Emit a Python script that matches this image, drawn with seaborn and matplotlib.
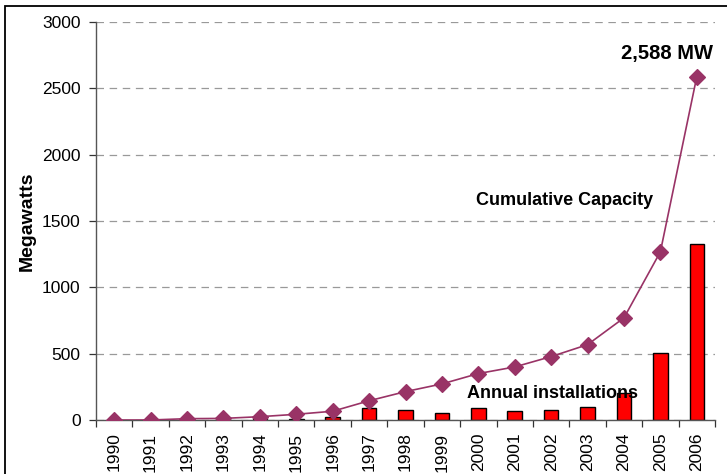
import matplotlib
matplotlib.use("Agg")
import matplotlib.pyplot as plt
import numpy as np
import pandas as pd
import seaborn as sns
from matplotlib.patches import Rectangle

# values
years = [1990, 1991, 1992, 1993, 1994, 1995, 1996, 1997, 1998,
         1999, 2000, 2001, 2002, 2003, 2004, 2005, 2006]
annual_mw = [0, 0, 2, 2, 5, 6, 22, 88, 78, 53, 88, 65, 78, 95, 200, 505, 1325]
cumulative_mw = [0, 0, 10, 12, 25, 43, 66, 145, 214, 272, 350, 400, 478, 568, 770, 1268, 2588]
yticks = [0, 500, 1000, 1500, 2000, 2500, 3000]

df = pd.DataFrame({'Year': [str(y) for y in years],
                   'Annual': annual_mw,
                   'Cumulative': cumulative_mw})

sns.set_style("white")
plt.rcParams['font.family'] = ['Liberation Sans', 'DejaVu Sans']
plt.rcParams['text.color'] = 'black'
plt.rcParams['axes.labelcolor'] = 'black'
plt.rcParams['xtick.labelcolor'] = 'black'
plt.rcParams['ytick.labelcolor'] = 'black'

fig = plt.figure(figsize=(7.27, 4.74), dpi=100)
ax = fig.add_axes([96 / 727, 54 / 474, 619 / 727, 398 / 474])

# bars for yearly installations
sns.barplot(data=df, x='Year', y='Annual', color='#FF0000', edgecolor='black',
            linewidth=1.0, width=0.4, saturation=1, ax=ax, zorder=2)
# cumulative line with diamond markers
sns.pointplot(data=df, x='Year', y='Cumulative', color='#993366', markers='D',
              markersize=8, linewidth=1.2, ax=ax, zorder=3)

ax.set_ylim(0, 3000)
ax.set_xlim(-0.5, len(years) - 0.5)
ax.set_yticks(yticks)
ax.set_yticklabels([str(t) for t in yticks], fontsize=12.5)
ax.yaxis.grid(True, color='#999999', linestyle=(0, (6, 4.5)), linewidth=0.9)
ax.set_axisbelow(True)

# year labels centred, tick marks between categories
ax.set_xticks(range(len(years)))
ax.set_xticklabels([str(y) for y in years], rotation=90, fontsize=12.5)
ax.set_xticks(np.arange(-0.5, len(years)), minor=True)
ax.tick_params(axis='x', which='major', length=0, pad=9)
ax.tick_params(axis='x', which='minor', length=5, width=0.9, color='#333333', direction='out', bottom=True)
ax.tick_params(axis='y', length=5, width=0.9, color='#333333', direction='out', left=True, pad=6)

ax.set_xlabel('')
ax.set_ylabel('Megawatts', fontsize=14, fontweight='bold')
ax.yaxis.set_label_coords(-0.098, 0.5)

for s in ['top', 'right']:
    ax.spines[s].set_visible(False)
for s in ['left', 'bottom']:
    ax.spines[s].set_color('#555555')
    ax.spines[s].set_linewidth(1.0)

ax.text(16.45, 2766, '2,588 MW', fontsize=14.5, fontweight='bold', ha='right', va='center')
ax.text(12.36, 1658, 'Cumulative Capacity', fontsize=13, fontweight='bold', ha='center', va='center')
ax.text(12.03, 203, 'Annual installations', fontsize=13, fontweight='bold', ha='center', va='center', zorder=5)

# outer frame (cut off at right and bottom in the original)
fig.patches.append(Rectangle((5 / 727, -0.2), 1.2, 1.2 - 6 / 474,
                             transform=fig.transFigure, fill=False,
                             edgecolor='black', linewidth=1.3))

fig.savefig('out.png', dpi=100)
